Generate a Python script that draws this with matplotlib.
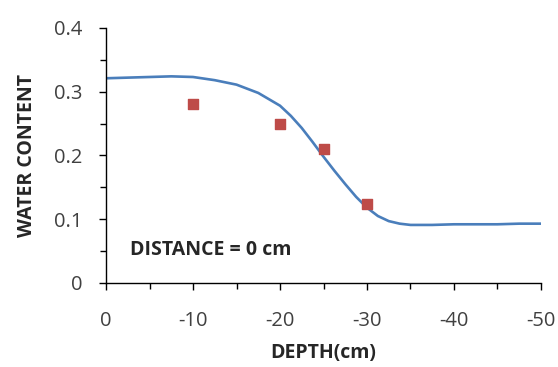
import matplotlib
matplotlib.use("Agg")
import matplotlib.pyplot as plt
from matplotlib.ticker import MultipleLocator

# simulated profile (line) and measured points (squares)
depth_sim = [0, -2.5, -5, -7.5, -10, -12.5, -15, -17.5, -20, -21.25, -22.5, -23.75,
             -25, -26.25, -27.5, -28.75, -30, -31.25, -32.5, -33.75, -35, -37.5,
             -40, -42.5, -45, -47.5, -50]
water_sim = [0.321, 0.322, 0.323, 0.324, 0.323, 0.318, 0.311, 0.298, 0.278, 0.262,
             0.243, 0.221, 0.198, 0.176, 0.155, 0.135, 0.118, 0.105, 0.097, 0.093,
             0.091, 0.091, 0.092, 0.092, 0.092, 0.093, 0.093]

depth_obs = [-10, -20, -25, -30]
water_obs = [0.28, 0.25, 0.21, 0.124]

x_ticks = [0, -10, -20, -30, -40, -50]
y_ticks = [0, 0.1, 0.2, 0.3, 0.4]
y_tick_labels = ["0", "0.1", "0.2", "0.3", "0.4"]

plt.rcParams["font.family"] = ["Open Sans", "DejaVu Sans"]

fig = plt.figure(figsize=(5.58, 3.67), dpi=100)
ax = fig.add_axes([0.190, 0.229, 0.7795, 0.695])

ax.plot(depth_sim, water_sim, color="#4A7EBB", linewidth=1.9)
ax.scatter(depth_obs, water_obs, marker="s", s=55, color="#BE4B48", zorder=3)

ax.set_xlim(0, -50)
ax.set_ylim(0, 0.4)
ax.set_xticks(x_ticks)
ax.set_xticklabels([str(v) for v in x_ticks])
ax.set_yticks(y_ticks)
ax.set_yticklabels(y_tick_labels)
ax.xaxis.set_minor_locator(MultipleLocator(5))
ax.yaxis.set_minor_locator(MultipleLocator(0.05))

for side in ["top", "right"]:
    ax.spines[side].set_visible(False)
for side in ["left", "bottom"]:
    ax.spines[side].set_linewidth(1.0)

ax.tick_params(which="both", direction="out", colors="black", labelcolor="#404040",
               labelsize=14.5, width=1.0)
ax.tick_params(which="major", length=5)
ax.tick_params(which="minor", length=4)
ax.tick_params(axis="x", which="major", pad=15)
ax.tick_params(axis="y", which="major", pad=12)

ax.set_xlabel("DEPTH(cm)", fontsize=14, fontweight="bold", color="#262626", labelpad=9)
ax.set_ylabel("WATER CONTENT", fontsize=14, fontweight="bold", color="#262626", labelpad=12)

ax.text(-2.8, 0.052, "DISTANCE = 0 cm", fontsize=14, fontweight="bold",
        color="#262626", va="center", ha="left")

fig.savefig("out.png", dpi=100)
